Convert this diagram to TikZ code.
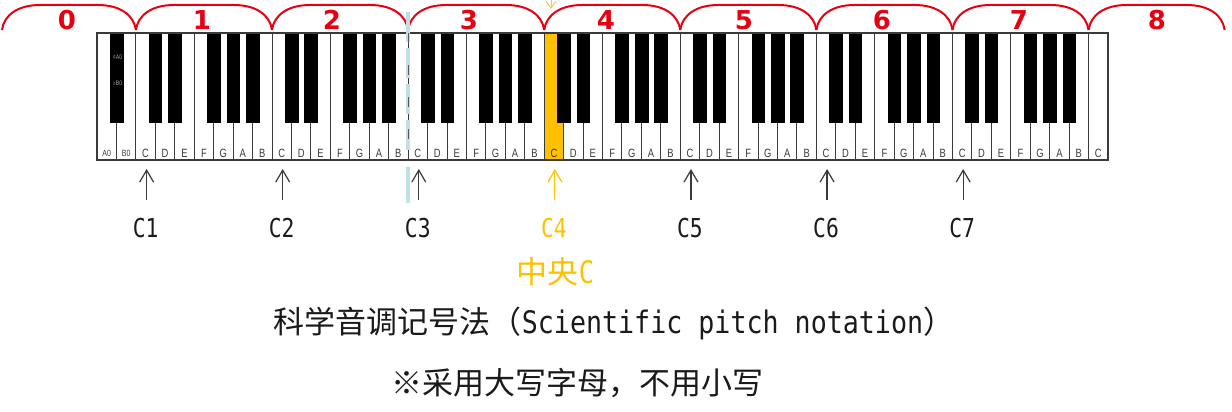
\documentclass[tikz,border=0pt]{standalone}
\usepackage{fontspec}
\setmainfont{Liberation Sans}
\newfontfamily\cjkf{Noto Sans CJK SC}
\newfontfamily\monof[FakeStretch=0.82]{DejaVu Sans Mono}
\newfontfamily\monot[FakeStretch=0.86]{DejaVu Sans Mono}
\newfontfamily\keyf[FakeStretch=0.78]{Liberation Sans}
\newfontfamily\numf{DejaVu Sans}
\newfontfamily\symf{DejaVu Sans}
\usetikzlibrary{arrows.meta}
\definecolor{kred}{HTML}{E60012}
\definecolor{kyel}{HTML}{FFC000}
\definecolor{kyellight}{HTML}{F9C74F}
\definecolor{kblue}{HTML}{BFE0E6}
\definecolor{kgray}{HTML}{3A3A3A}
\definecolor{ktext}{HTML}{1A1A1A}
\begin{document}
\begin{tikzpicture}[x=1pt,y=-1pt,
  whitekey/.style={draw=kgray,line width=0.9pt,minimum width=19.442pt,minimum height=127pt,inner sep=0pt,outer sep=0pt},
  blackkey/.style={fill=black,draw=black,line width=0.3pt,minimum width=12.6pt,minimum height=89pt,inner sep=0pt},
  keylab/.style={text=kgray,font=\keyf\fontsize{12}{12}\selectfont,inner sep=0pt},
  smallkeylab/.style={text=kgray,font=\keyf\fontsize{9}{9}\selectfont,inner sep=0pt},
  bklab/.style={text=gray!70,font=\fontsize{6.5}{6.5}\selectfont,inner sep=0pt},
  bracket/.style={draw=kred,line width=2pt},
  octnum/.style={text=kred,font=\numf\bfseries\fontsize{26}{26}\selectfont,inner sep=0pt},
  uparr/.style={line width=1.2pt,-{Straight Barb[length=12pt,width=14pt]}},
  clab/.style={font=\monof\fontsize{26}{26}\selectfont,inner sep=0pt},
  cjktext/.style={font=\fontsize{31}{31}\selectfont,inner sep=0pt}]
\useasboundingbox (0,0) rectangle (1232,412);
\fill[white] (0,0) rectangle (1232,412);
% white keys
\foreach \i in {0,...,51}{
  \pgfmathsetmacro\kx{97+(\i+0.5)*19.442}
  \ifnum\i=23 \def\kf{kyel}\else\def\kf{white}\fi
  \node[whitekey,fill=\kf] (w\i) at (\kx,96.5) {};
}
% black keys
\node[blackkey] (bA) at (116.442,77.5) {};
\foreach \o in {0,...,6}{
  \foreach \d in {1,2,4,5,6}{
    \pgfmathsetmacro\bx{97+(2+7*\o+\d)*19.442}
    \node[blackkey] (b\o\d) at (\bx,77.5) {};
  }
}
\draw[kgray,line width=1.3pt] (w0.north west) rectangle (w51.south east);
% key letters
\foreach \i in {0,...,51}{
  \pgfmathsetmacro\kx{97+(\i+0.5)*19.442}
  \pgfmathtruncatemacro\mm{mod(\i+5,7)}
  \ifnum\i<2
    \node[smallkeylab] (kl\i) at (\kx,153) {\ifcase\mm C\or D\or E\or F\or G\or A\or B\fi 0};
  \else
    \node[keylab] (kl\i) at (\kx,153) {\ifcase\mm C\or D\or E\or F\or G\or A\or B\fi};
  \fi
}
\node[bklab] (bkl1) at (117.5,57) {\symf ♯\keyf A0};
\node[bklab] (bkl2) at (117.5,83) {\symf ♭\keyf B0};
% octave brackets
\foreach \n in {0,...,8}{
  \pgfmathsetmacro\xa{max(135.9+136.094*(\n-1),2)}
  \pgfmathsetmacro\xb{135.9+136.094*\n}
  \draw[bracket] (\xa,30) .. controls (\xa+2,15) and (\xa+16,5) .. (\xa+38,5) -- (\xb-38,5) .. controls (\xb-16,5) and (\xb-2,15) .. (\xb,30);
}
\foreach \n/\nx in {0/67,1/202,2/332,3/469,4/606,5/744,6/882,7/1019,8/1157}{
  \node[octnum] (o\n) at (\nx,20) {\n};
}
% dashed divider
\coordinate (dl0) at (408.1,12);
\coordinate (dl1) at (408.1,150);
\coordinate (dl2) at (408.1,167);
\coordinate (dl3) at (408.1,203);
\draw[kblue,line width=4pt,dash pattern=on 30pt off 6pt] (dl0) -- (dl1);
\draw[kblue,line width=4pt] (dl2) -- (dl3);
\coordinate (dg0) at (408.1,33);
\coordinate (dg1) at (408.1,160);
\draw[gray!70!black,line width=1pt,dash pattern=on 10pt off 22pt] (dg0) -- (dg1);
% top yellow arrow
\coordinate (yt0) at (551,-8);
\coordinate (yt1) at (551,9);
\draw[kyellight,line width=1pt,-{Straight Barb[length=7pt,width=10pt]}] (yt0) -- (yt1);
% C arrows and labels
\foreach \n in {1,...,7}{
  \pgfmathsetmacro\ax{97+(2.5+7*(\n-1))*19.442+1}
  \ifnum\n=4 \def\acol{kyel}\def\tcol{kyel}\else\def\acol{kgray}\def\tcol{ktext}\fi
  \coordinate (as\n) at (\ax,200);
  \coordinate (at\n) at (\ax,169);
  \draw[uparr,draw=\acol] (as\n) -- (at\n);
  \node[clab,text=\tcol] (cl\n) at (\ax-1,228) {C\n};
}
\node[cjktext,text=kyel] (mid) at (555.5,272) {\cjkf 中央\monof C};
\node[cjktext,text=ktext] (title) at (614,323) {\cjkf 科学音调记号法（\monot Scientific pitch notation\cjkf ）};
\node[cjktext,text=ktext] (note) at (577,383) {\cjkf ※采用大写字母，不用小写};
\end{tikzpicture}
\end{document}
